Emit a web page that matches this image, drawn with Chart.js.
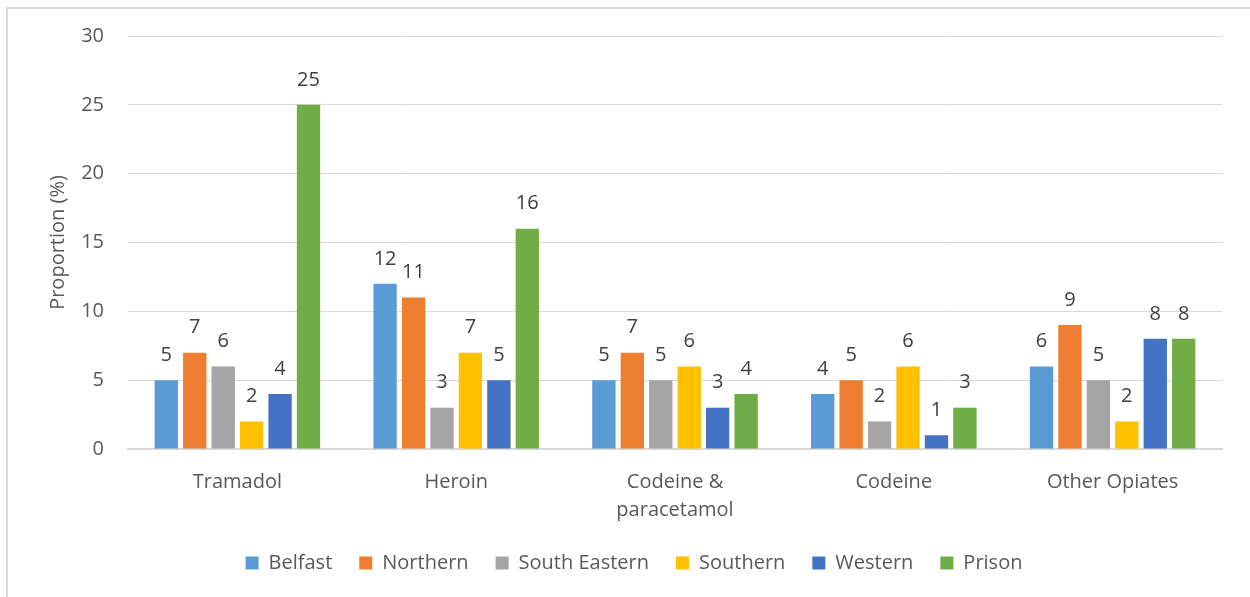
<!DOCTYPE html>
<html>
<head>
<meta charset="utf-8">
<script src="https://cdn.jsdelivr.net/npm/chart.js@4/dist/chart.umd.min.js"></script>
<style>
  html, body { margin: 0; padding: 0; background: #fff; }
  #wrap { position: relative; width: 1250px; height: 597px; }
  #frame { position: absolute; left: 6px; top: 7px; width: 1260px; height: 600px;
           border-left: 2px solid #d9d9d9; border-top: 2px solid #d9d9d9; }
  canvas { position: absolute; left: 0; top: 0; }
</style>
</head>
<body>
<div id="wrap">
  <div id="frame"></div>
  <canvas id="myChart" width="1250" height="597"></canvas>
</div>
<script>
const categories = ["Tramadol", "Heroin", ["Codeine &", "paracetamol"], "Codeine", "Other Opiates"];
const belfast = [5, 12, 5, 4, 6];
const northern = [7, 11, 7, 5, 9];
const southEastern = [6, 3, 5, 2, 5];
const southern = [2, 7, 6, 6, 2];
const western = [4, 5, 3, 1, 8];
const prison = [25, 16, 4, 3, 8];
const yTicks = [0, 5, 10, 15, 20, 25, 30];

const FONT = "'Open Sans', sans-serif";
const TXT = "#595959";

// draws the value above every bar
const barLabels = {
  id: "barLabels",
  afterDatasetsDraw(chart) {
    const ctx = chart.ctx;
    ctx.save();
    ctx.font = "20px " + FONT;
    ctx.fillStyle = "#404040";
    ctx.textAlign = "center";
    ctx.textBaseline = "middle";
    chart.data.datasets.forEach((ds, i) => {
      chart.getDatasetMeta(i).data.forEach((bar, j) => {
        ctx.fillText(ds.data[j], bar.x, bar.y - 25);
      });
    });
    ctx.restore();
  }
};

Chart.defaults.font.family = FONT;
Chart.defaults.color = TXT;

new Chart(document.getElementById("myChart"), {
  type: "bar",
  data: {
    labels: categories,
    datasets: [
      { label: "Belfast", data: belfast, backgroundColor: "#5B9BD5" },
      { label: "Northern", data: northern, backgroundColor: "#ED7D31" },
      { label: "South Eastern", data: southEastern, backgroundColor: "#A5A5A5" },
      { label: "Southern", data: southern, backgroundColor: "#FFC000" },
      { label: "Western", data: western, backgroundColor: "#4472C4" },
      { label: "Prison", data: prison, backgroundColor: "#70AD47" }
    ]
  },
  options: {
    responsive: false,
    animation: false,
    devicePixelRatio: 1,
    layout: { padding: { left: 46, right: 28, top: 35, bottom: 14 } },
    datasets: { bar: { categoryPercentage: 0.78, barPercentage: 0.82 } },
    plugins: {
      legend: {
        position: "bottom",
        labels: { boxWidth: 13, boxHeight: 13, padding: 27, font: { size: 20 }, color: TXT }
      },
      tooltip: { enabled: false }
    },
    scales: {
      x: {
        grid: { display: false, drawTicks: false },
        border: { color: "#d9d9d9", width: 2 },
        ticks: { font: { size: 20, lineHeight: 1.4 }, color: TXT, padding: 19, maxRotation: 0 },
        afterFit(scale) { scale.height = 77; }
      },
      y: {
        min: 0, max: 30,
        afterBuildTicks(scale) { scale.ticks = yTicks.map(v => ({ value: v })); },
        grid: { color: "#d9d9d9", lineWidth: 1, drawTicks: false },
        border: { display: false },
        ticks: { font: { size: 20 }, color: TXT, padding: 24 },
        title: { display: true, text: "Proportion (%)", font: { size: 20 }, color: TXT, padding: 0 },
        afterFit(scale) { scale.width = 82; }
      }
    }
  },
  plugins: [barLabels]
});
</script>
</body>
</html>
